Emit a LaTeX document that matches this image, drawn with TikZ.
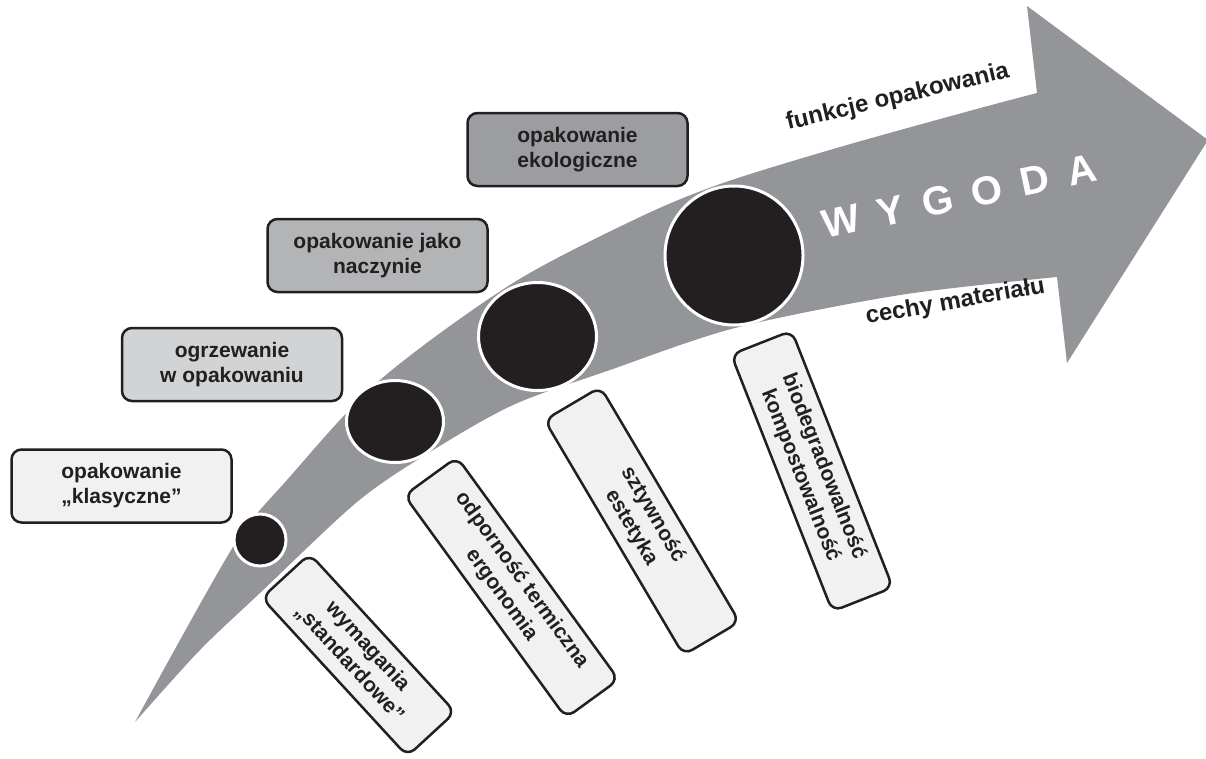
\documentclass[tikz,border=0pt]{standalone}
\usepackage{fontspec}
\setmainfont{Liberation Sans}
\usetikzlibrary{shapes.geometric}
\definecolor{ciemny}{HTML}{231F20}
\definecolor{szary}{HTML}{939598}
\definecolor{jasny}{HTML}{F1F1F2}
\definecolor{szary1}{HTML}{D1D3D4}
\definecolor{szary2}{HTML}{B3B4B6}
\definecolor{szary3}{HTML}{9C9DA0}
\begin{document}
\begin{tikzpicture}[x=1pt, y=-1pt,
    pole/.style={draw=ciemny, line width=2.5pt, rounded corners=10pt, align=center,
      text=ciemny, inner sep=0pt, minimum width=220pt, minimum height=73pt,
      font=\fontsize{21}{25}\selectfont\bfseries},
    cecha/.style={pole, fill=jasny, minimum height=65pt},
    kolo/.style={ellipse, fill=ciemny, draw=white, line width=3pt, inner sep=0pt},
    napis/.style={inner sep=0pt, anchor=base west, text=ciemny,
      font=\fontsize{24}{28}\selectfont\bfseries}]
    \useasboundingbox (0,0) rectangle (1206,758);

    % Strzalka
    \fill[szary] (135,722)
      -- plot[smooth] coordinates {(135,722) (233,547) (287,480) (380,380) (513,283)
           (640,217) (723,183) (840,147) (973,110) (1037,93)}
      -- (1027,6) -- (1208,140) -- (1067,363) -- (1057,277)
      -- plot[smooth] coordinates {(1057,277) (900,295) (735,328) (610,370) (513,405)
           (430,452) (357,502) (260,593) (200,650) (135,722)}
      -- cycle;

    % Kola
    \node[kolo, minimum width=52pt, minimum height=52pt] (kolo1) at (260,540) {};
    \node[kolo, minimum width=97pt, minimum height=82pt] (kolo2) at (395,421.5) {};
    \node[kolo, minimum width=118pt, minimum height=108pt] (kolo3) at (537.5,336.5) {};
    \node[kolo, minimum width=138pt, minimum height=139pt] (kolo4) at (734,255.5) {};

    % Opakowania
    \node[pole, fill=jasny] (pole1) at (121.5,486) {opakowanie\\„klasyczne”};
    \node[pole, fill=szary1] (pole2) at (232,364.5) {ogrzewanie\\w opakowaniu};
    \node[pole, fill=szary2] (pole3) at (377.5,255.5) {opakowanie jako\\naczynie};
    \node[pole, fill=szary3] (pole4) at (577.5,149.5) {opakowanie\\ekologiczne};

    % Cechy
    \node[cecha, rotate=-47.4, minimum width=215pt] (cecha1) at (358.5,655) {wymagania\\„standardowe”};
    \node[cecha, rotate=-54, minimum width=275pt] (cecha2) at (511.5,587.5) {odporność termiczna\\ergonomia};
    \node[cecha, rotate=-59.4, minimum width=273pt] (cecha3) at (642,521) {sztywność\\estetyka};
    \node[cecha, rotate=-68.5, minimum width=276pt] (cecha4) at (812,471) {biodegradowalność\\kompostowalność};

    % Napisy
    \node[napis, rotate=13.4] (funkcje) at (788,130) {funkcje opakowania};
    \node[napis, rotate=10] (cechy) at (867,324) {cechy materiału};
    \node[napis, rotate=12, text=white, font=\fontsize{40}{44}\selectfont\bfseries] (wygoda) at (825,239)
      {W\kern19pt Y\kern19pt G\kern19pt O\kern19pt D\kern19pt A};
\end{tikzpicture}
\end{document}
